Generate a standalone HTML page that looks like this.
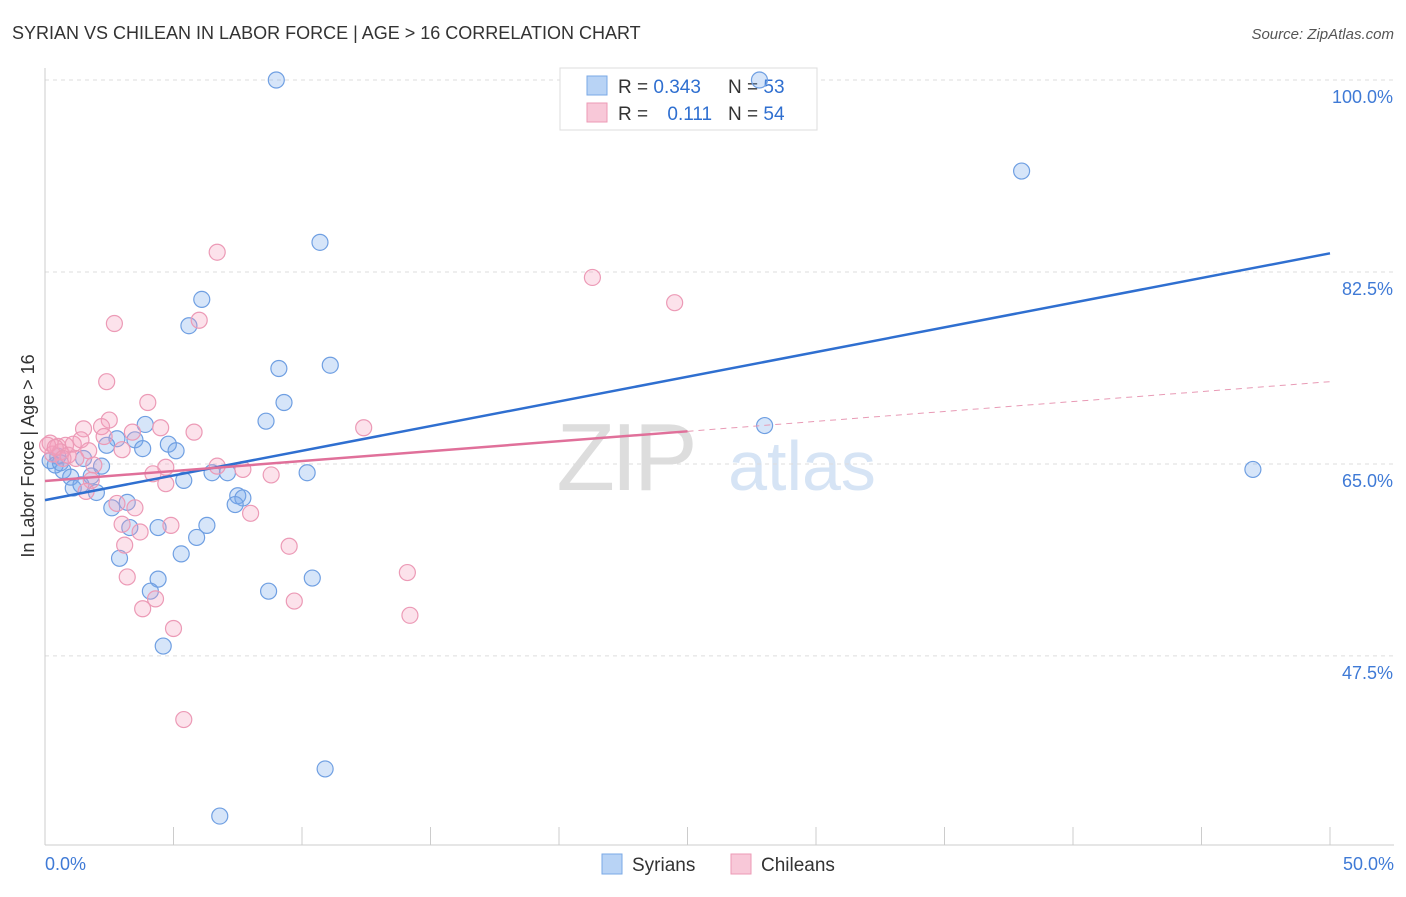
<!DOCTYPE html>
<html><head><meta charset="utf-8"><style>
body{margin:0;background:#fff;font-family:"Liberation Sans",sans-serif;}
svg text{font-family:"Liberation Sans",sans-serif;}
</style></head><body>
<svg id="chart" width="1406" height="892" viewBox="0 0 1406 892">
<text x="12" y="39" font-size="18" fill="#333">SYRIAN VS CHILEAN IN LABOR FORCE | AGE &gt; 16 CORRELATION CHART</text>
<text x="1394" y="39" font-size="15" fill="#555" font-style="italic" text-anchor="end">Source: ZipAtlas.com</text>
<g>
<text x="625" y="490" font-size="96" fill="#ddd" font-family="Liberation Serif" text-anchor="middle" letter-spacing="-4">ZIP</text>
<text x="802" y="490" font-size="70" fill="#d6e4f5" text-anchor="middle">atlas</text>
</g>
<g id="grid"></g>
<g id="axes"></g>
<g>
<rect x="560" y="68" width="257" height="62" fill="#fff" stroke="#ddd"/>
<rect x="587" y="76" width="20" height="19" fill="#b8d3f5" stroke="#7aa8e6"/>
<rect x="587" y="103" width="20" height="19" fill="#f8c8d8" stroke="#ec9ab6"/>
<text x="618" y="93" font-size="19" fill="#333">R = <tspan fill="#2f6fd0">0.343</tspan></text>
<text x="728" y="93" font-size="19" fill="#333">N = <tspan fill="#2f6fd0">53</tspan></text>
<text x="618" y="120" font-size="19" fill="#333">R = <tspan fill="#2f6fd0" dx="14">0.111</tspan></text>
<text x="728" y="120" font-size="19" fill="#333">N = <tspan fill="#2f6fd0">54</tspan></text>
</g>
<g id="pts"></g>
<g id="lines"></g>
<text x="34" y="456" font-size="18" fill="#333" text-anchor="middle" transform="rotate(-90 34 456)">In Labor Force | Age &gt; 16</text>
<g>
<rect x="602" y="854" width="20" height="20" fill="#b8d3f5" stroke="#7aa8e6"/>
<text x="632" y="871" font-size="19" fill="#333">Syrians</text>
<rect x="731" y="854" width="20" height="20" fill="#f8c8d8" stroke="#ec9ab6"/>
<text x="761" y="871" font-size="19" fill="#333">Chileans</text>
</g>
</svg>
<script>
const yTicks=[100,82.5,65,47.5];
const yTickLabels=["100.0%","82.5%","65.0%","47.5%"];
const xTickLabels=["0.0%","50.0%"];
const syrX=[9.0,27.8,38.0,10.7,6.1,5.6,11.1,9.1,9.3,8.6,3.9,2.8,3.5,2.4,4.8,3.8,5.1,1.5,0.2,0.5,2.2,0.7,1.0,1.8,1.1,2.0,5.4,6.5,7.1,10.2,2.6,3.2,7.5,7.7,7.4,3.3,4.4,6.3,5.9,2.9,5.3,4.4,10.4,4.1,8.7,4.6,10.9,6.8,28.0,47.0,0.4,0.6,1.4];
const syrY=[100,100,91.7,85.2,80.0,77.6,74.0,73.7,70.6,68.9,68.6,67.3,67.2,66.7,66.8,66.4,66.2,65.5,65.3,65.7,64.8,64.4,63.8,63.9,62.8,62.4,63.5,64.2,64.2,64.2,61.0,61.5,62.1,61.9,61.3,59.2,59.2,59.4,58.3,56.4,56.8,54.5,54.6,53.4,53.4,48.4,37.2,32.9,68.5,64.5,64.9,65.1,63.1];
const chiX=[6.7,2.7,21.3,24.5,6.0,2.4,4.0,2.5,1.5,2.2,3.4,4.5,5.8,12.4,0.2,0.5,0.8,1.1,1.4,1.7,2.3,3.0,0.3,0.6,0.9,1.2,1.9,4.7,6.7,7.7,8.8,4.2,4.7,1.8,1.6,2.8,3.5,8.0,3.0,4.9,3.7,3.1,9.5,3.2,14.1,3.8,4.3,9.7,14.2,5.0,5.4,0.1,0.4,0.7];
const chiY=[84.3,77.8,82.0,79.7,78.1,72.5,70.6,69.0,68.2,68.4,67.9,68.3,67.9,68.3,66.9,66.6,66.7,66.8,67.2,66.2,67.5,66.3,65.9,66.1,65.8,65.5,64.9,64.7,64.8,64.5,64.0,64.1,63.2,63.5,62.5,61.4,61.0,60.5,59.5,59.4,58.8,57.6,57.5,54.7,55.1,51.8,52.7,52.5,51.2,50.0,41.7,66.7,66.5,65.5];
const syrTrend=[61.7,84.2];
const chiTrend=[63.45,72.5];
const ns="http://www.w3.org/2000/svg";
const X=v=>45+v*25.7, Y=v=>80+(100-v)*10.97;
function mk(tag,attrs,parent){const e=document.createElementNS(ns,tag);for(const k in attrs)e.setAttribute(k,attrs[k]);document.getElementById(parent).appendChild(e);return e;}
yTicks.forEach((t,i)=>{
 const g=mk('line',{x1:45,x2:1394,y1:Y(t),y2:Y(t),stroke:'#ddd','stroke-dasharray':'4,4'},'grid');
 
 
 const l=mk('text',{x:1393,y:Y(t)+23,'font-size':18,fill:'#3f7ad6','text-anchor':'end'},'axes');
 l.textContent=yTickLabels[i];
 
 
});
const ax=mk('line',{x1:45,x2:45,y1:68,y2:845,stroke:'#ccc'},'axes');


const bx=mk('line',{x1:45,x2:1394,y1:845,y2:845,stroke:'#ccc'},'axes');


for(let v=5;v<=50;v+=5){const t=mk('line',{x1:X(v),x2:X(v),y1:827,y2:845,stroke:'#ccc'},'axes');
 
 }
[[0,'start',45],[50,'end',1394]].forEach((d,i)=>{const t=mk('text',{x:d[2],y:870,'font-size':18,fill:'#3f7ad6','text-anchor':d[1]},'axes');t.textContent=xTickLabels[i];
 
 });
syrX.forEach((x,i)=>{const c=mk('circle',{cx:X(x),cy:Y(syrY[i]),r:8,fill:'rgba(120,170,235,0.3)',stroke:'#6f9fe2','stroke-width':1.2},'pts');
 
 });
chiX.forEach((x,i)=>{const c=mk('circle',{cx:X(x),cy:Y(chiY[i]),r:8,fill:'rgba(245,160,190,0.3)',stroke:'#ec9ab6','stroke-width':1.2},'pts');
 
 });
const sl=mk('line',{x1:X(0),y1:Y(syrTrend[0]),x2:X(50),y2:Y(syrTrend[1]),stroke:'#2f6fd0','stroke-width':2.5},'lines');


const cm=chiTrend[0]+(chiTrend[1]-chiTrend[0])*0.5;
const cl=mk('line',{x1:X(0),y1:Y(chiTrend[0]),x2:X(25),y2:Y(cm),stroke:'#e0709a','stroke-width':2.5},'lines');


const cd=mk('line',{x1:X(25),y1:Y(cm),x2:X(50),y2:Y(chiTrend[1]),stroke:'#e89ab5','stroke-width':1,'stroke-dasharray':'6,5'},'lines');


</script>
</body></html>
